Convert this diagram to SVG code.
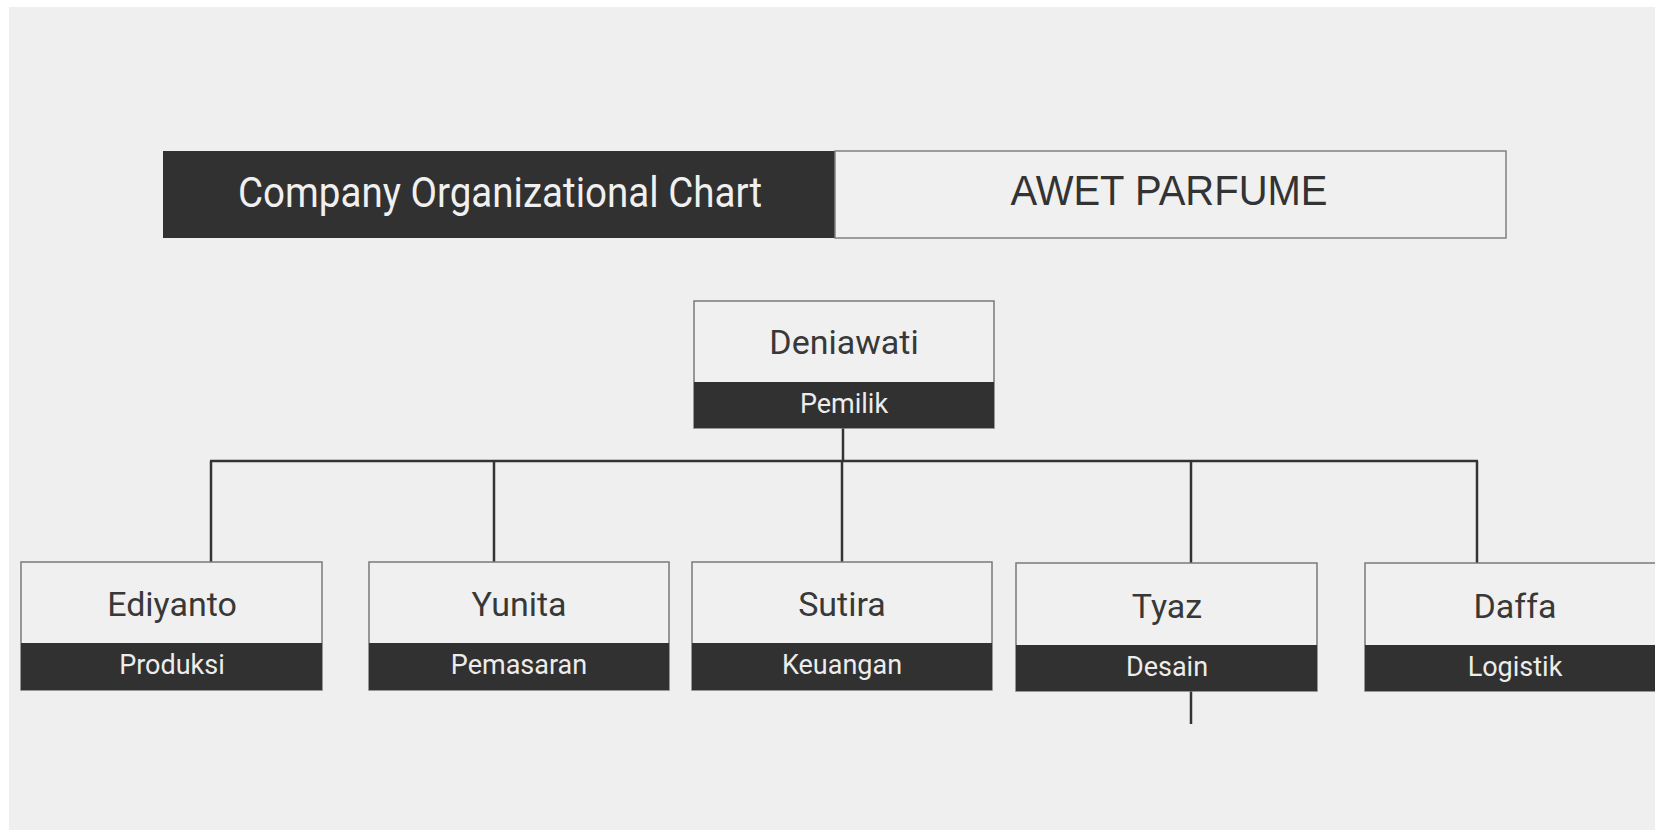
<svg xmlns="http://www.w3.org/2000/svg" width="1655" height="830" viewBox="0 0 1655 830">
<style>
.bg{fill:#efefef}
.box{fill:#f0f0f0;stroke:#7a7a7a;stroke-width:1.5}
.band{fill:#313131}
.name{font-family:Roboto,"Liberation Sans",sans-serif;font-size:34px;fill:#383838;text-anchor:middle}
.role{font-family:Roboto,"Liberation Sans",sans-serif;font-size:27px;fill:#ececec;text-anchor:middle}
.conn{stroke:#333;stroke-width:2.5;fill:none}
</style>
<rect x="0" y="0" width="1655" height="830" fill="#ffffff"/>
<rect class="bg" x="9" y="7" width="1646" height="823"/>
<g id="title">
<rect x="163" y="151" width="672" height="87" fill="#313131"/>
<rect x="835" y="151" width="671" height="87" fill="#f0f0f0" stroke="#808080" stroke-width="1.5"/>
<text x="500" y="207" font-family="Roboto,'Liberation Sans',sans-serif" font-size="42" fill="#f0f0f0" text-anchor="middle" textLength="524" lengthAdjust="spacingAndGlyphs">Company Organizational Chart</text>
<text x="1169" y="205" font-family="'Liberation Sans',Arial,sans-serif" font-size="42" fill="#333" text-anchor="middle" textLength="317" lengthAdjust="spacingAndGlyphs">AWET PARFUME</text>
</g>
<g id="connectors">
<line class="conn" x1="843" y1="428" x2="843" y2="461"/>
<line class="conn" x1="210" y1="461" x2="1478" y2="461" stroke-width="3.2"/>
<line class="conn" x1="211" y1="461" x2="211" y2="562"/>
<line class="conn" x1="494" y1="461" x2="494" y2="562"/>
<line class="conn" x1="842" y1="461" x2="842" y2="562"/>
<line class="conn" x1="1191" y1="461" x2="1191" y2="563"/>
<line class="conn" x1="1477" y1="461" x2="1477" y2="563"/>
<line class="conn" x1="1191" y1="691" x2="1191" y2="724"/>
</g>
<g id="node-deniawati">
<rect class="box" x="694" y="301" width="300" height="127"/>
<rect class="band" x="694" y="382" width="300" height="46"/>
<text class="name" x="844" y="354">Deniawati</text>
<text class="role" x="844" y="413">Pemilik</text>
</g>
<g id="node-ediyanto">
<rect class="box" x="21" y="562" width="301" height="128"/>
<rect class="band" x="21" y="643" width="301" height="47"/>
<text class="name" x="172" y="616">Ediyanto</text>
<text class="role" x="172" y="674">Produksi</text>
</g>
<g id="node-yunita">
<rect class="box" x="369" y="562" width="300" height="128"/>
<rect class="band" x="369" y="643" width="300" height="47"/>
<text class="name" x="519" y="616">Yunita</text>
<text class="role" x="519" y="674">Pemasaran</text>
</g>
<g id="node-sutira">
<rect class="box" x="692" y="562" width="300" height="128"/>
<rect class="band" x="692" y="643" width="300" height="47"/>
<text class="name" x="842" y="616">Sutira</text>
<text class="role" x="842" y="674">Keuangan</text>
</g>
<g id="node-tyaz">
<rect class="box" x="1016" y="563" width="301" height="128" stroke="#444"/>
<rect class="band" x="1016" y="645" width="301" height="46"/>
<text class="name" x="1167" y="618">Tyaz</text>
<text class="role" x="1167" y="676">Desain</text>
</g>
<g id="node-daffa">
<rect class="box" x="1365" y="563" width="301" height="128" stroke="#444"/>
<rect class="band" x="1365" y="645" width="301" height="46"/>
<text class="name" x="1515" y="618">Daffa</text>
<text class="role" x="1515" y="676">Logistik</text>
</g>
</svg>
